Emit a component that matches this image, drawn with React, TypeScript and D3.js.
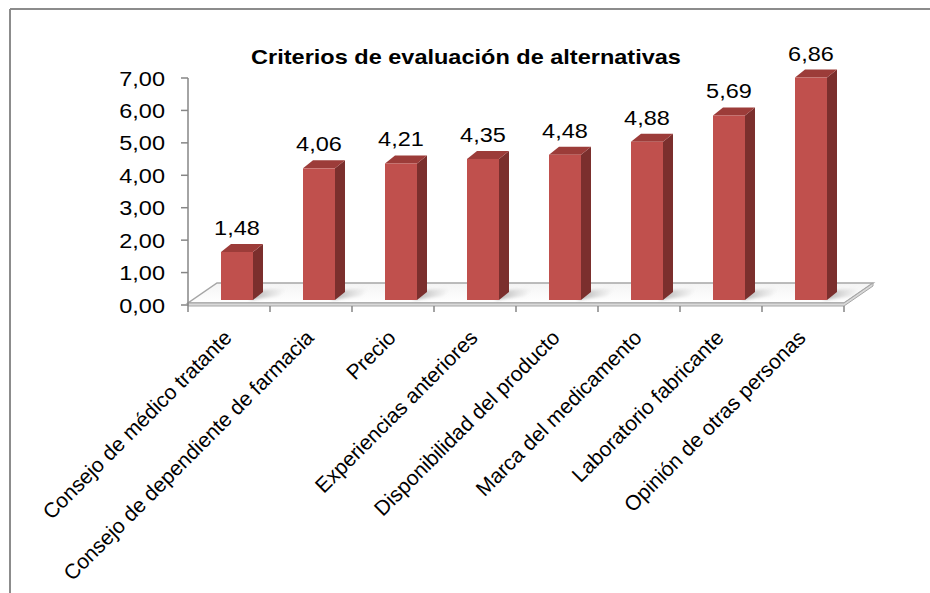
import React from "react";
import * as d3 from "d3";

const title = "Criterios de evaluación de alternativas";
const categories = [
  "Consejo de médico tratante",
  "Consejo de dependiente de farmacia",
  "Precio",
  "Experiencias anteriores",
  "Disponibilidad del producto",
  "Marca del medicamento",
  "Laboratorio fabricante",
  "Opinión de otras personas",
];
const values = [1.48, 4.06, 4.21, 4.35, 4.48, 4.88, 5.69, 6.86];
const yTicks = [0, 1, 2, 3, 4, 5, 6, 7];

const W = 930;
const H = 593;
const FONT = "'Liberation Sans', Arial, sans-serif";
const SX = 1.12;

export default function App() {
  const x = d3.scaleBand<string>().domain(categories).range([188, 844]).padding(0);
  const y = d3.scaleLinear().domain([0, 7]).range([305, 78]);
  const fmt = (v: number) => d3.format(".2f")(v).replace(".", ",");

  const depthX = 29;
  const depthY = -20;
  const floorFrontY = 303;
  const barShiftX = 8;
  const barShiftY = -5;
  const barW = 32;
  const bdx = 10;
  const bdy = -8;

  const x0 = x.range()[0];
  const x1 = x.range()[1];

  return (
    <svg
      width={W}
      height={H}
      style={{ position: "absolute", left: 0, top: 0, background: "#fff" }}
      fontFamily={FONT}
    >
      <defs>
        <linearGradient id="floorGrad" x1="0" y1="0" x2="0" y2="1">
          <stop offset="0" stopColor="#f4f4f4" />
          <stop offset="1" stopColor="#ffffff" />
        </linearGradient>
        <linearGradient id="shadowGrad" x1="0" y1="0" x2="1" y2="0">
          <stop offset="0" stopColor="#8a8a8a" stopOpacity="0.75" />
          <stop offset="1" stopColor="#bdbdbd" stopOpacity="0" />
        </linearGradient>
        <filter id="blur" x="-20%" y="-50%" width="140%" height="200%">
          <feGaussianBlur stdDeviation="1.5" />
        </filter>
      </defs>

      {/* outer frame */}
      <line x1={10} y1={9} x2={W} y2={9} stroke="#8c8c8c" strokeWidth={2} />
      <line x1={10} y1={9} x2={10} y2={H} stroke="#8c8c8c" strokeWidth={2} />

      {/* title */}
      <text
        transform={`translate(466,64) scale(${SX},1)`}
        textAnchor="middle"
        fontSize={21}
        fontWeight="bold"
        fill="#000"
      >
        {title}
      </text>

      {/* floor slab */}
      <polygon
        points={`${x0},${floorFrontY} ${x1},${floorFrontY} ${x1 + depthX},${floorFrontY + depthY} ${x0 + depthX},${floorFrontY + depthY}`}
        fill="url(#floorGrad)"
        stroke="#a6a6a6"
        strokeWidth={1.5}
      />
      <polygon
        points={`${x0},${floorFrontY} ${x1},${floorFrontY} ${x1 + depthX},${floorFrontY + depthY} ${x1 + depthX},${floorFrontY + depthY + 3} ${x1},${floorFrontY + 3} ${x0},${floorFrontY + 3}`}
        fill="#d9d9d9"
        stroke="#a6a6a6"
        strokeWidth={1}
      />

      {/* shadows */}
      {categories.map((c, i) => {
        const fx = (x(c) as number) + x.bandwidth() / 2 + barShiftX - barW / 2;
        const by = floorFrontY + barShiftY + 2;
        const sx0 = fx + barW;
        return (
          <polygon
            key={"s" + i}
            points={`${sx0 - 4},${by} ${sx0 + 26},${by - 4} ${sx0 + 34},${by - 12} ${sx0 + bdx},${by + bdy - 2}`}
            fill="url(#shadowGrad)"
            filter="url(#blur)"
          />
        );
      })}

      {/* y axis */}
      <line x1={x0} y1={y(7)} x2={x0} y2={floorFrontY + 3} stroke="#868686" strokeWidth={1.5} />
      {yTicks.map((t) => (
        <g key={"yt" + t}>
          <line x1={x0 - 7} y1={y(t)} x2={x0} y2={y(t)} stroke="#868686" strokeWidth={1.5} />
          <text
            transform={`translate(165,${y(t)}) scale(${SX},1)`}
            textAnchor="end"
            dy="0.36em"
            fontSize={21}
            fill="#000"
          >
            {fmt(t)}
          </text>
        </g>
      ))}

      {/* x ticks */}
      {d3.range(categories.length + 1).map((i) => {
        const tx = x0 + i * x.bandwidth();
        return (
          <line
            key={"xt" + i}
            x1={tx}
            y1={floorFrontY + 3}
            x2={tx}
            y2={floorFrontY + 9}
            stroke="#868686"
            strokeWidth={1.5}
          />
        );
      })}

      {/* bars */}
      {categories.map((c, i) => {
        const v = values[i];
        const fx = (x(c) as number) + x.bandwidth() / 2 + barShiftX - barW / 2;
        const top = y(v) + barShiftY;
        const bottom = y(0) + barShiftY;
        return (
          <g key={"b" + i}>
            <polygon
              points={`${fx + barW},${top} ${fx + barW + bdx},${top + bdy} ${fx + barW + bdx},${bottom + bdy} ${fx + barW},${bottom}`}
              fill="#7b2f2d"
            />
            <polygon
              points={`${fx},${top} ${fx + barW},${top} ${fx + barW + bdx},${top + bdy} ${fx + bdx},${top + bdy}`}
              fill="#9c3c39"
            />
            <rect x={fx} y={top} width={barW} height={bottom - top} fill="#c0504d" />
            <text
              transform={`translate(${fx + barW / 2},${top - 17}) scale(${SX},1)`}
              textAnchor="middle"
              fontSize={21}
              fill="#000"
            >
              {fmt(v)}
            </text>
          </g>
        );
      })}

      {/* category labels */}
      {categories.map((c, i) => {
        const cx = (x(c) as number) + x.bandwidth() / 2;
        return (
          <text
            key={"cl" + i}
            transform={`translate(${cx + 4},${339}) rotate(-45)`}
            textAnchor="end"
            fontSize={21}
            fill="#000"
          >
            {c}
          </text>
        );
      })}
    </svg>
  );
}
